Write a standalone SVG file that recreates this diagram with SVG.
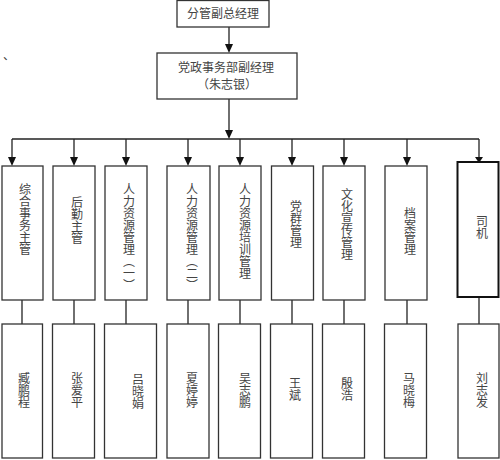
<svg xmlns="http://www.w3.org/2000/svg" width="500" height="460" viewBox="0 0 500 460">
<style>
.box{fill:#fff;stroke:#333;stroke-width:1.3}
.thick{fill:#fff;stroke:#111;stroke-width:2}
.ln{fill:none;stroke:#222;stroke-width:1.3}
.ah{fill:#111}
.t{font-family:"Noto Sans CJK SC","Noto Sans CJK JP",sans-serif;font-size:12px;fill:#444}
.h{text-anchor:middle}
.v{writing-mode:vertical-rl;text-orientation:mixed}
</style>
<rect width="500" height="460" fill="#fff"/>
<text class="t" x="3" y="60" font-size="8" fill="#666">、</text>
<g id="connectors">
<path class="ln" d="M229,27 V44"/><path class="ah" d="M225,44 L233,44 L229,53 Z"/>
<path class="ln" d="M229,99 V130"/><path class="ah" d="M225,130 L233,130 L229,139 Z"/>
<path class="ln" d="M12,139 H479"/>
<path class="ln" d="M12,139 V157"/><path class="ah" d="M8,157 L16,157 L12,166 Z"/>
<path class="ln" d="M74,139 V157"/><path class="ah" d="M70,157 L78,157 L74,166 Z"/>
<path class="ln" d="M126,139 V157"/><path class="ah" d="M122,157 L130,157 L126,166 Z"/>
<path class="ln" d="M188,139 V157"/><path class="ah" d="M184,157 L192,157 L188,166 Z"/>
<path class="ln" d="M240,139 V157"/><path class="ah" d="M236,157 L244,157 L240,166 Z"/>
<path class="ln" d="M292,139 V157"/><path class="ah" d="M288,157 L296,157 L292,166 Z"/>
<path class="ln" d="M344,139 V157"/><path class="ah" d="M340,157 L348,157 L344,166 Z"/>
<path class="ln" d="M407,139 V157"/><path class="ah" d="M403,157 L411,157 L407,166 Z"/>
<path class="ln" d="M479,139 V158"/><path class="ah" d="M475,157 L483,157 L479,163 Z"/>
<path class="ln" d="M22,300 V324"/>
<path class="ln" d="M74,300 V324"/>
<path class="ln" d="M126,300 V324"/>
<path class="ln" d="M188,300 V324"/>
<path class="ln" d="M240,300 V324"/>
<path class="ln" d="M292,300 V324"/>
<path class="ln" d="M344,300 V324"/>
<path class="ln" d="M407,300 V324"/>
<path class="ln" d="M479,297 V324"/>
</g>
<g id="n-top"><rect class="box" x="177" y="0.5" width="92" height="26.5"/><text class="t h" x="223" y="18">分管副总经理</text></g>
<g id="n-dep"><rect class="box" x="157" y="53" width="140" height="46"/><text class="t h" x="226" y="72">党政事务部副经理</text><text class="t h" x="227" y="89">（朱志银）</text></g>
<g id="a1"><rect class="box" x="2" y="166" width="41" height="134"/><text class="t v" x="25" y="183">综合事务主管</text></g>
<g id="a2"><rect class="box" x="53" y="166" width="42" height="134"/><text class="t v" x="77" y="196">后勤主管</text></g>
<g id="a3"><rect class="box" x="105" y="166" width="42" height="134"/><text class="t v" x="129" y="183">人力资源管理（一）</text></g>
<g id="a4"><rect class="box" x="167" y="166" width="43" height="134"/><text class="t v" x="192" y="183">人力资源管理（二）</text></g>
<g id="a5"><rect class="box" x="219" y="166" width="42" height="134"/><text class="t v" x="245" y="183">人力资源培训管理</text></g>
<g id="a6"><rect class="box" x="271.5" y="166" width="42" height="134"/><text class="t v" x="296" y="200">党群管理</text></g>
<g id="a7"><rect class="box" x="323" y="166" width="42" height="134"/><text class="t v" x="347" y="188">文化宣传管理</text></g>
<g id="a8"><rect class="box" x="385" y="166" width="42" height="134"/><text class="t v" x="410" y="207">档案管理</text></g>
<g id="a9"><rect class="thick" x="457.5" y="162" width="41" height="135"/><text class="t v" x="482" y="215">司机</text></g>
<g id="b1"><rect class="box" x="2" y="324" width="40.5" height="134"/><text class="t v" x="24" y="372">臧鹏程</text></g>
<g id="b2"><rect class="box" x="52.5" y="324" width="42" height="134"/><text class="t v" x="77" y="372">张爱平</text></g>
<g id="b3"><rect class="box" x="104.5" y="324" width="52" height="134"/><text class="t v" x="138" y="373">吕晓娟</text></g>
<g id="b4"><rect class="box" x="167" y="324" width="42" height="134"/><text class="t v" x="192" y="372">夏婷婷</text></g>
<g id="b5"><rect class="box" x="218.5" y="324" width="42" height="134"/><text class="t v" x="245" y="372">吴志鹏</text></g>
<g id="b6"><rect class="box" x="270.5" y="324" width="42" height="134"/><text class="t v" x="295" y="377">王斌</text></g>
<g id="b7"><rect class="box" x="322.5" y="324" width="42" height="134"/><text class="t v" x="347" y="377">殷浩</text></g>
<g id="b8"><rect class="box" x="384.5" y="324" width="42" height="134"/><text class="t v" x="409" y="372">马晓梅</text></g>
<g id="b9"><rect class="box" x="458" y="324" width="41" height="134"/><text class="t v" x="482" y="372">刘志发</text></g>
</svg>
